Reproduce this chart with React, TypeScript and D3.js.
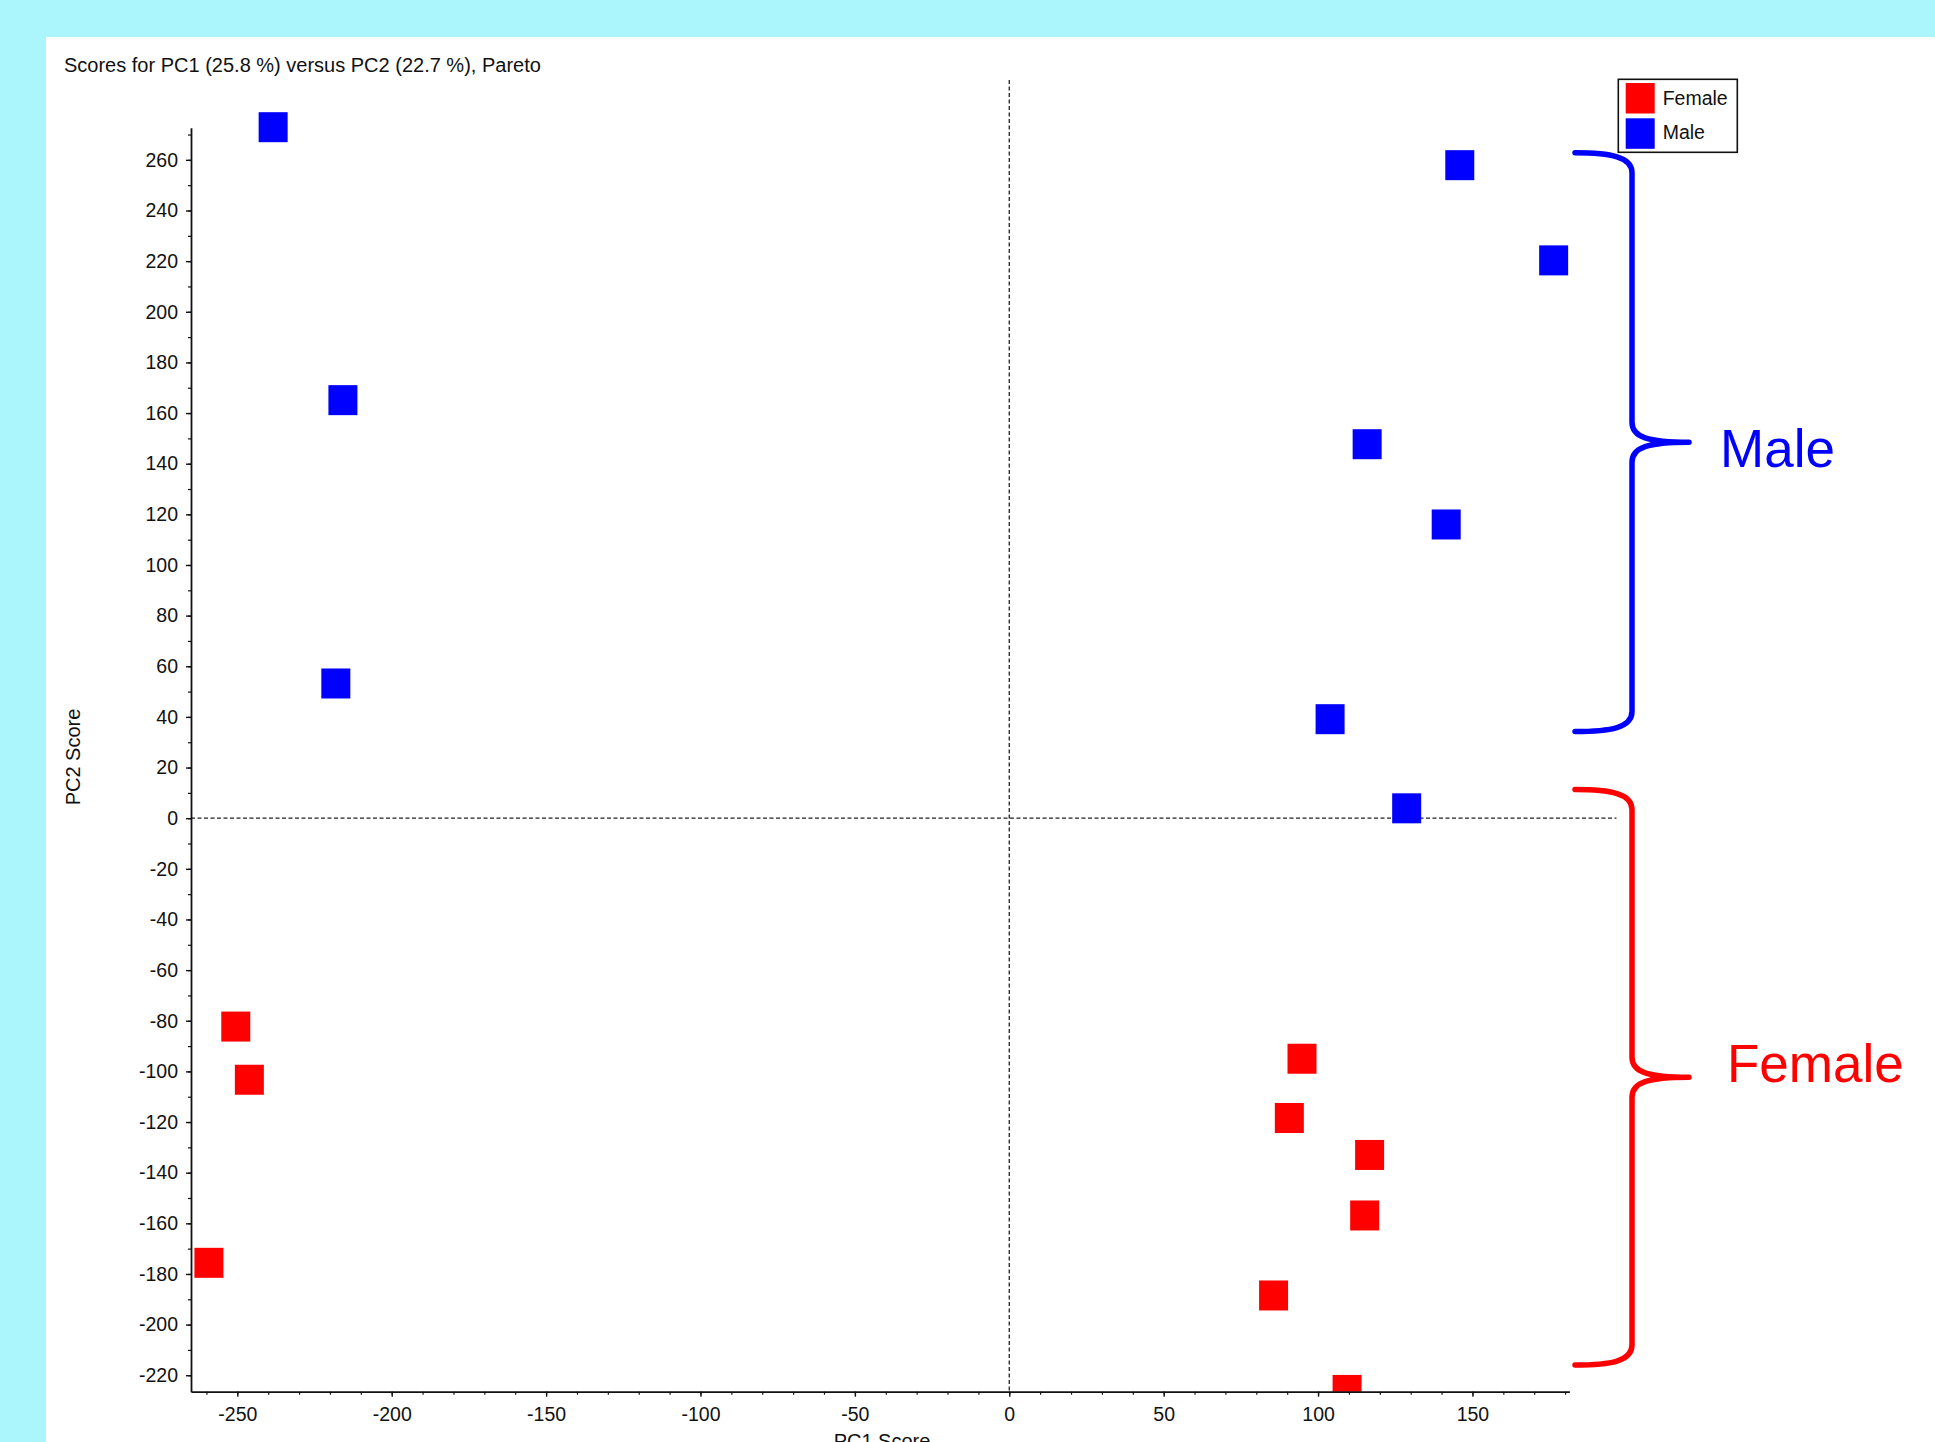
import { useEffect, useRef } from "react";
import * as d3 from "d3";

// groups + colours
const groups = ["Female", "Male"];
const groupColors = ["#ff0000", "#0000ff"];

// PCA scores
const femalePC1 = [-250.5, -246.1, -259.2, 94.8, 90.7, 116.7, 115.1, 85.6, 109.4];
const femalePC2 = [-82.3, -103.3, -175.6, -95.0, -118.4, -133.0, -156.9, -188.5, -225.8];
const malePC1 = [-238.4, -215.8, -218.1, 145.9, 176.3, 115.9, 141.5, 103.9, 128.7];
const malePC2 = [272.9, 165.1, 53.2, 257.9, 220.3, 147.7, 116.0, 39.1, 3.9];

// axes
const xDomain = [-265, 181.4];
const yDomain = [-226.5, 272.7];
const xTicks = d3.range(-250, 151, 50);
const xMinor = d3.range(-260, 181, 10);
const yTicks = d3.range(-220, 261, 20);
const yMinor = d3.range(-220, 271, 10);

// brace spans (PC2 units, top -> bottom)
const braceSpans = [
  [11.3, -216],
  [262.8, 34.2],
];

export default function App() {
  const svgRef = useRef<SVGSVGElement>(null);

  useEffect(() => {
    if (!svgRef.current) return;
    const W = 1935;
    const H = 1442;
    const font = "'Liberation Sans', Arial, Helvetica, sans-serif";

    const svg = d3.select(svgRef.current);
    svg.selectAll("*").remove();

    svg.append("rect").attr("width", W).attr("height", H).attr("fill", "#abf6fc");
    svg
      .append("rect")
      .attr("x", 46)
      .attr("y", 37)
      .attr("width", W - 46)
      .attr("height", H - 37)
      .attr("fill", "#fff");

    const x = d3.scaleLinear().domain(xDomain).range([191, 1569.4]);
    const y = d3.scaleLinear().domain(yDomain).range([1391.7, 127.7]);

    // title
    svg
      .append("text")
      .attr("x", 64)
      .attr("y", 72)
      .attr("font-family", font)
      .attr("font-size", 20)
      .attr("fill", "#111")
      .text("Scores for PC1 (25.8 %) versus PC2 (22.7 %), Pareto");

    // zero lines
    svg
      .append("line")
      .attr("x1", x(0))
      .attr("x2", x(0))
      .attr("y1", 80)
      .attr("y2", y(yDomain[0]))
      .attr("stroke", "#222")
      .attr("stroke-width", 1.3)
      .attr("stroke-dasharray", "4,2.5");
    svg
      .append("line")
      .attr("x1", x(xDomain[0]))
      .attr("x2", 1616.5)
      .attr("y1", y(0))
      .attr("y2", y(0))
      .attr("stroke", "#222")
      .attr("stroke-width", 1.3)
      .attr("stroke-dasharray", "4,2.5");

    // points, clipped at the x axis
    svg
      .append("clipPath")
      .attr("id", "plotClip")
      .append("rect")
      .attr("x", 0)
      .attr("y", 0)
      .attr("width", W)
      .attr("height", y(yDomain[0]));

    const sq = 29;
    const series = [
      { pc1: femalePC1, pc2: femalePC2, color: groupColors[0] },
      { pc1: malePC1, pc2: malePC2, color: groupColors[1] },
    ];
    const pts = svg.append("g").attr("clip-path", "url(#plotClip)");
    series.forEach((s) => {
      pts
        .selectAll(null)
        .data(s.pc1.map((v, i) => [v, s.pc2[i]]))
        .join("rect")
        .attr("x", (d) => x(d[0]) - sq / 2)
        .attr("y", (d) => y(d[1]) - sq / 2 - 0.5)
        .attr("width", sq)
        .attr("height", sq + 1)
        .attr("fill", s.color);
    });

    // axes
    const fmt = (d: d3.NumberValue) => String(d);
    const styleAxis = (g: d3.Selection<SVGGElement, unknown, null, undefined>) => {
      g.selectAll(".domain").attr("stroke", "#111").attr("stroke-width", 1.8);
      g.selectAll(".tick line").attr("stroke", "#111").attr("stroke-width", 1.4);
      g.selectAll(".tick text")
        .attr("font-family", font)
        .attr("font-size", 19.5)
        .attr("fill", "#111");
    };

    const yMinorG = svg
      .append("g")
      .attr("transform", `translate(${x(xDomain[0])},0)`)
      .call(d3.axisLeft(y).tickValues(yMinor).tickSize(3).tickSizeOuter(0).tickFormat(() => ""));
    yMinorG.select(".domain").remove();
    yMinorG.selectAll(".tick line").attr("stroke", "#111").attr("stroke-width", 1.2);

    const xMinorG = svg
      .append("g")
      .attr("transform", `translate(0,${y(yDomain[0])})`)
      .call(d3.axisBottom(x).tickValues(xMinor).tickSize(3).tickSizeOuter(0).tickFormat(() => ""));
    xMinorG.select(".domain").remove();
    xMinorG.selectAll(".tick line").attr("stroke", "#111").attr("stroke-width", 1.2);

    svg
      .append("g")
      .attr("transform", `translate(${x(xDomain[0])},0)`)
      .call(
        d3.axisLeft(y).tickValues(yTicks).tickFormat(fmt).tickSize(5).tickSizeOuter(0).tickPadding(8),
      )
      .call(styleAxis);

    svg
      .append("g")
      .attr("transform", `translate(0,${y(yDomain[0])})`)
      .call(
        d3.axisBottom(x).tickValues(xTicks).tickFormat(fmt).tickSize(5).tickSizeOuter(0).tickPadding(10),
      )
      .call(styleAxis);

    // axis titles (the x title sits partly below the picture's edge, as in the original)
    svg
      .append("text")
      .attr("transform", `translate(80,757) rotate(-90)`)
      .attr("text-anchor", "middle")
      .attr("font-family", font)
      .attr("font-size", 20)
      .attr("fill", "#111")
      .text("PC2 Score");
    svg
      .append("text")
      .attr("x", 882)
      .attr("y", 1448)
      .attr("text-anchor", "middle")
      .attr("font-family", font)
      .attr("font-size", 20)
      .attr("fill", "#111")
      .text("PC1 Score");

    // legend
    const lg = svg.append("g");
    lg.append("rect")
      .attr("x", 1618.3)
      .attr("y", 79.3)
      .attr("width", 119)
      .attr("height", 73)
      .attr("fill", "#fff")
      .attr("stroke", "#111")
      .attr("stroke-width", 1.6);
    groups.forEach((name, i) => {
      lg.append("rect")
        .attr("x", 1625.7)
        .attr("y", 83 + i * 35.3)
        .attr("width", 29)
        .attr("height", 30.5)
        .attr("fill", groupColors[i]);
      lg.append("text")
        .attr("x", 1662.7)
        .attr("y", 104.5 + i * 34.8)
        .attr("font-family", font)
        .attr("font-size", 19.5)
        .attr("fill", "#111")
        .text(name);
    });

    // braces
    const x0 = 1575;
    const xv = 1632;
    const xt = 1689;
    const labelX = [1727, 1720];
    const labelDy = [5, 25];
    const bracePath = (yTop: number, yBot: number) => {
      const ym = (yTop + yBot) / 2;
      return (
        `M${x0},${yTop} C${x0 + 36},${yTop} ${xv},${yTop + 4} ${xv},${yTop + 20} ` +
        `L${xv},${ym - 20} C${xv},${ym - 5} ${xv + 16},${ym} ${xt},${ym} ` +
        `C${xv + 16},${ym} ${xv},${ym + 5} ${xv},${ym + 20} ` +
        `L${xv},${yBot - 20} C${xv},${yBot - 4} ${x0 + 36},${yBot} ${x0},${yBot}`
      );
    };
    braceSpans.forEach((span, i) => {
      const yTop = y(span[0]);
      const yBot = y(span[1]);
      svg
        .append("path")
        .attr("d", bracePath(yTop, yBot))
        .attr("fill", "none")
        .attr("stroke", groupColors[i])
        .attr("stroke-width", 5.5)
        .attr("stroke-linecap", "round")
        .attr("stroke-linejoin", "round");
      svg
        .append("text")
        .attr("x", labelX[i])
        .attr("y", (yTop + yBot) / 2 + labelDy[i])
        .attr("font-family", font)
        .attr("font-size", 53)
        .attr("fill", groupColors[i])
        .text(groups[i]);
    });
  }, []);

  return (
    <svg
      ref={svgRef}
      width={1935}
      height={1442}
      style={{ position: "absolute", left: 0, top: 0, display: "block" }}
    />
  );
}
